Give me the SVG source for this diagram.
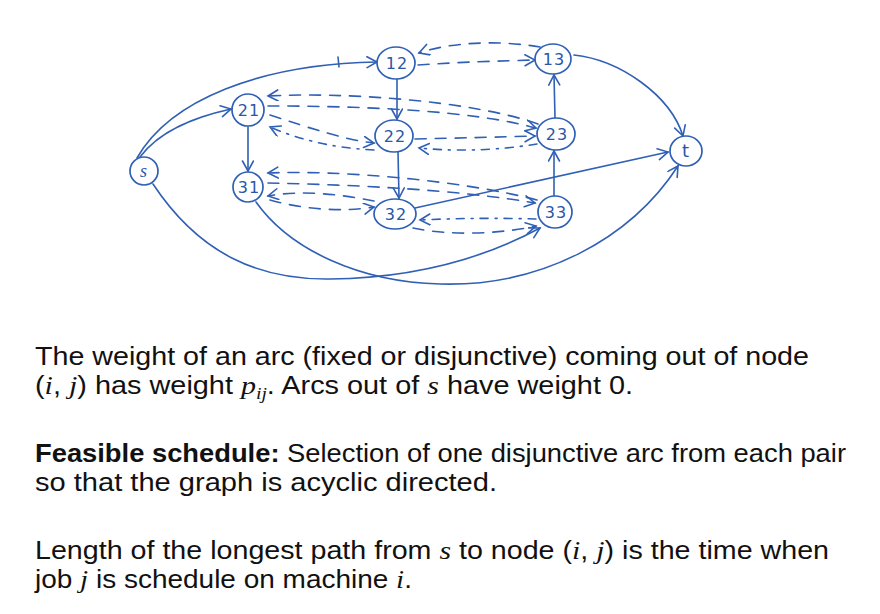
<svg xmlns="http://www.w3.org/2000/svg" width="880" height="614" viewBox="0 0 880 614">
<defs>
<marker id="ah" markerWidth="14" markerHeight="14" refX="11" refY="6" orient="auto" markerUnits="userSpaceOnUse">
<path d="M1,0.5 L11,6 L1,11.5" fill="none" stroke="#3060b5" stroke-width="1.6" stroke-linecap="round"/>
</marker>
</defs>
<style>
.n ellipse{fill:#fff;stroke:#3060b5;stroke-width:1.7}
.n text{font-family:"DejaVu Sans",sans-serif;font-size:16px;fill:#2a55a8;text-anchor:middle;letter-spacing:1px}
.e path{fill:none;stroke:#3060b5;stroke-width:1.6;stroke-linecap:round}
.e .a{marker-end:url(#ah)}
.e .d{stroke-dasharray:11 9}
.e .dd{stroke-dasharray:8 7 2 7}
.t{font-family:"Liberation Sans",Arial,sans-serif;font-size:25px;fill:#111}
.m{font-family:"Liberation Serif","Times New Roman",serif;font-style:italic;font-size:26px}
.b{font-weight:bold}
</style>
<rect width="880" height="614" fill="#fff"/>
<g class="e" id="connectors">
<path class="a" d="M140,157 C160,130 195,117 231,109"/>
<path class="a" d="M137,158 C170,100 260,64 377,62"/>
<path d="M338,57 L339,67"/>
<path class="a" d="M248,127 L248,171"/>
<path class="a" d="M397,79 L397,119"/>
<path class="a" d="M398,152 L399,198"/>
<path class="a" d="M554,196 L554,151"/>
<path class="a" d="M555,118 L554,75"/>
<path class="a" d="M574,55 C620,60 670,95 683,136"/>
<path class="a" d="M415,208 L668,152"/>
<path class="a" d="M153,184 C200,255 260,280 330,279 C420,278 490,255 540,228"/>
<path class="a" d="M256,202 C290,250 360,282 440,284 C540,287 630,240 678,166"/>
<path class="a d" d="M540,47 C500,40 450,42 419,53"/>
<path class="a d" d="M418,65 C460,62 500,61 535,60"/>
<path class="a d" d="M538,124 C470,100 340,92 268,96"/>
<path class="a d" d="M268,106 C360,106 470,110 536,128"/>
<path class="a d" d="M270,115 C310,128 345,140 374,143"/>
<path class="a dd" d="M374,150 C330,148 295,138 270,127"/>
<path class="a d" d="M415,139 C460,138 500,137 535,136"/>
<path class="a dd" d="M537,144 C500,150 460,152 419,148"/>
<path class="a d" d="M537,200 C460,180 340,170 268,173"/>
<path class="a d" d="M268,183 C360,185 460,190 535,203"/>
<path class="a d" d="M374,201 C340,194 300,190 268,196"/>
<path class="a d" d="M270,200 C305,210 345,212 374,207"/>
<path class="a dd" d="M536,219 C500,218 460,218 420,220"/>
<path class="a d" d="M413,228 C450,236 500,234 536,226"/>
</g>
<g class="n" id="n-s"><ellipse cx="144" cy="171" rx="14" ry="14"/><text x="144" y="177" style="font-family:'Liberation Serif',serif;font-style:italic;font-size:18px">s</text></g>
<g class="n" id="n-21"><ellipse cx="248" cy="110" rx="16" ry="16"/><text x="249" y="116">21</text></g>
<g class="n" id="n-31"><ellipse cx="248" cy="187" rx="15" ry="15"/><text x="249" y="193">31</text></g>
<g class="n" id="n-12"><ellipse cx="396" cy="63" rx="19" ry="16"/><text x="397" y="69">12</text></g>
<g class="n" id="n-22"><ellipse cx="394" cy="136" rx="19" ry="16"/><text x="395" y="142">22</text></g>
<g class="n" id="n-32"><ellipse cx="395" cy="214" rx="21" ry="15"/><text x="396" y="220">32</text></g>
<g class="n" id="n-13"><ellipse cx="553" cy="59" rx="18" ry="15"/><text x="554" y="65">13</text></g>
<g class="n" id="n-23"><ellipse cx="556" cy="134" rx="19" ry="16"/><text x="557" y="140">23</text></g>
<g class="n" id="n-33"><ellipse cx="555" cy="212" rx="17" ry="16"/><text x="556" y="218">33</text></g>
<g class="n" id="n-t"><ellipse cx="686" cy="151" rx="16" ry="15"/><text x="686" y="157" style="font-size:18px">t</text></g>
<g id="caption">
<text class="t" x="35" y="365" textLength="774" lengthAdjust="spacingAndGlyphs">The weight of an arc (fixed or disjunctive) coming out of node</text>
<text class="t" x="35" y="394" textLength="598" lengthAdjust="spacingAndGlyphs">(<tspan class="m">i</tspan>, <tspan class="m">j</tspan>) has weight <tspan class="m">p</tspan><tspan class="m" style="font-size:17px" dy="5">ij</tspan><tspan dy="-5">. Arcs out of </tspan><tspan class="m">s</tspan> have weight 0.</text>
<text class="t" x="35" y="462" textLength="811" lengthAdjust="spacingAndGlyphs"><tspan class="b">Feasible schedule:</tspan> Selection of one disjunctive arc from each pair</text>
<text class="t" x="35" y="491" textLength="462" lengthAdjust="spacingAndGlyphs">so that the graph is acyclic directed.</text>
<text class="t" x="35" y="559" textLength="794" lengthAdjust="spacingAndGlyphs">Length of the longest path from <tspan class="m">s</tspan> to node (<tspan class="m">i</tspan>, <tspan class="m">j</tspan>) is the time when</text>
<text class="t" x="35" y="588" textLength="377" lengthAdjust="spacingAndGlyphs">job <tspan class="m">j</tspan> is schedule on machine <tspan class="m">i</tspan>.</text>
</g>
</svg>
